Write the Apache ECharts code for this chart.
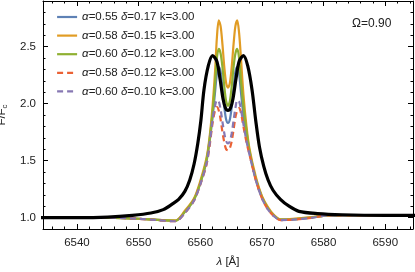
<!DOCTYPE html>
<html><head><meta charset="utf-8">
<script src="https://cdn.jsdelivr.net/npm/echarts@6/dist/echarts.min.js"></script>
<style>html,body{margin:0;padding:0;background:#fff}#c{width:415px;height:272px}</style>
</head><body><div id="c"></div>
<script>
// ---- data ----
const seriesNames = ['α=0.55 δ=0.17 k=3.00','α=0.58 δ=0.15 k=3.00','α=0.60 δ=0.12 k=3.00','α=0.58 δ=0.12 k=3.00','α=0.60 δ=0.10 k=3.00'];
const xColored = [6534,6540,6544,6550,6553,6556,6557.5,6559,6560,6561,6561.5,6562.0,6562.4,6562.7,6563.0,6563.3,6563.6,6563.9,6564.2,6564.5,6564.8,6565.1,6565.4,6565.7,6566.0,6566.3,6566.6,6567.0,6567.5,6568,6569,6570,6571,6572,6573,6575,6578,6581,6588,6595];
const blueY   = [1.0,1.0,1.0,0.99,0.98,0.972,1.05,1.16,1.30,1.49,1.66,1.88,2.10,2.26,2.32,2.28,2.14,1.97,1.86,1.83,1.86,1.97,2.14,2.28,2.32,2.26,2.10,1.90,1.72,1.57,1.34,1.18,1.08,1.015,0.982,0.985,1.0,1.02,1.02,1.02];
const orangeY = [1.0,1.0,1.0,0.99,0.98,0.975,1.06,1.17,1.32,1.52,1.70,1.98,2.28,2.58,2.73,2.68,2.52,2.32,2.18,2.14,2.18,2.32,2.52,2.68,2.73,2.62,2.40,2.08,1.80,1.60,1.36,1.19,1.09,1.02,0.985,0.99,1.005,1.02,1.02,1.02];
const greenY  = [1.0,1.0,1.0,0.99,0.98,0.972,1.05,1.16,1.30,1.50,1.68,1.92,2.18,2.40,2.48,2.44,2.32,2.15,2.02,1.98,2.02,2.15,2.32,2.44,2.48,2.40,2.20,1.98,1.76,1.58,1.34,1.18,1.08,1.015,0.982,0.985,1.0,1.02,1.02,1.02];
const redY    = [1.0,1.0,1.0,0.99,0.978,0.968,1.04,1.15,1.29,1.46,1.62,1.83,1.94,1.97,1.94,1.86,1.75,1.66,1.60,1.59,1.61,1.67,1.77,1.88,1.94,1.96,1.92,1.80,1.66,1.55,1.33,1.17,1.07,1.01,0.978,0.982,0.998,1.02,1.02,1.02];
const purpleY = [1.0,1.0,1.0,0.99,0.978,0.968,1.04,1.15,1.29,1.47,1.64,1.86,1.98,2.03,2.02,1.95,1.84,1.74,1.67,1.65,1.67,1.74,1.85,1.96,2.03,2.02,1.95,1.82,1.67,1.55,1.33,1.17,1.07,1.01,0.978,0.982,0.998,1.02,1.02,1.02];
const xBlack = [6534,6540,6545,6549,6552,6554,6555.5,6556.5,6557.5,6558.3,6559,6559.6,6560.1,6560.6,6561.3,6562,6562.7,6563.2,6563.7,6564.1,6564.5,6564.9,6565.3,6565.8,6566.3,6567,6567.7,6568.4,6569,6569.6,6570.3,6571,6571.8,6573,6574.4,6576,6579,6583,6590,6595];
const blackY = [1.0,1.0,1.005,1.02,1.04,1.07,1.12,1.16,1.23,1.33,1.47,1.65,1.85,2.12,2.33,2.42,2.37,2.22,2.04,1.96,1.94,1.96,2.04,2.22,2.37,2.42,2.33,2.12,1.85,1.62,1.45,1.33,1.24,1.16,1.10,1.055,1.035,1.025,1.02,1.02];
const xMajor = [6540,6550,6560,6570,6580,6590];
const xMinor = [6536,6538,6542,6544,6546,6548,6552,6554,6556,6558,6562,6564,6566,6568,6572,6574,6576,6578,6582,6584,6586,6588,6592,6594];
const yMajor = [1.0,1.5,2.0,2.5];
const yMinor = [1.1,1.2,1.3,1.4,1.6,1.7,1.8,1.9,2.1,2.2,2.3,2.4,2.6,2.7,2.8];
const omegaText = 'Ω=0.90';

// ---- chart ----
const colors = ['#5E81B5','#E19C24','#8FB032','#EB6235','#8778B3'];
const dashes = [false,false,false,true,true];
const ys = [blueY, orangeY, greenY, redY, purpleY];
const FONT = 'Liberation Sans';
const XMIN = 6534.5, XMAX = 6594.5, YMIN = 0.9, YMAX = 2.9;

function xAx(pos, vals, len, showLabel, showLine) {
  return {
    type:'value', position:pos, min:XMIN, max:XMAX,
    axisLine:{show:showLine, onZero:false, lineStyle:{color:'#000', width:1}},
    axisTick:{show:true, inside:true, length:len, customValues:vals, lineStyle:{color:'#000', width:1}},
    axisLabel:{show:showLabel, customValues:vals, color:'#222', fontFamily:FONT, fontSize:11.5, margin:8, formatter:v=>String(v)},
    splitLine:{show:false}
  };
}
function yAx(pos, vals, len, showLabel, showLine) {
  return {
    type:'value', position:pos, min:YMIN, max:YMAX,
    axisLine:{show:showLine, onZero:false, lineStyle:{color:'#000', width:1}},
    axisTick:{show:true, inside:true, length:len, customValues:vals, lineStyle:{color:'#000', width:1}},
    axisLabel:{show:showLabel, customValues:vals, color:'#222', fontFamily:FONT, fontSize:11.5, margin:7, formatter:v=>v.toFixed(1)},
    splitLine:{show:false}
  };
}

const xAxes = [
  Object.assign(xAx('bottom', xMajor, 5, true, true), {
    name:'{i|λ} [Å]', nameLocation:'middle', nameGap:27,
    nameTextStyle:{color:'#222', fontFamily:FONT, fontSize:11.5, rich:{i:{fontStyle:'italic', fontFamily:FONT, fontSize:11.5, color:'#222'}}}
  }),
  xAx('bottom', xMinor, 2.5, false, false),
  xAx('top', xMajor, 5, false, true),
  xAx('top', xMinor, 2.5, false, false)
];
const yAxes = [
  Object.assign(yAx('left', yMajor, 5, true, true), {
    name:'F/F{s|c}', nameLocation:'middle', nameGap:31, nameRotate:90,
    nameTextStyle:{color:'#222', fontFamily:FONT, fontSize:11.5, rich:{s:{fontFamily:FONT, fontSize:8, color:'#222', verticalAlign:'bottom', padding:[6,0,0,0]}}}
  }),
  yAx('left', yMinor, 2.5, false, false),
  yAx('right', yMajor, 5, false, true),
  yAx('right', yMinor, 2.5, false, false)
];

const series = seriesNames.map((n,i)=>({
  name:n, type:'line', xAxisIndex:0, yAxisIndex:0, smooth:0.3, symbol:'none',
  data: xColored.map((x,j)=>[x, ys[i][j]]),
  lineStyle:{color:colors[i], width:2.2, type: dashes[i] ? [6,4] : 'solid'},
  itemStyle:{color:colors[i]}, z:2+i
}));
series.push({
  name:'black', type:'line', xAxisIndex:0, yAxisIndex:0, smooth:0.3, symbol:'none',
  data: xBlack.map((x,j)=>[x, blackY[j]]),
  lineStyle:{color:'#000', width:3.2}, itemStyle:{color:'#000'}, z:10
});

const chart = echarts.init(document.getElementById('c'), null, {renderer:'canvas'});
chart.setOption({
  animation:false,
  backgroundColor:'#fff',
  grid:{left:43, right:2, top:1, bottom:43, containLabel:false, outerBoundsMode:'none'},
  xAxis:xAxes, yAxis:yAxes,
  legend:{
    data:seriesNames, orient:'vertical', left:51, top:6, itemWidth:20, itemHeight:12, itemGap:6.6,
    itemStyle:{opacity:0},
    lineStyle:{width:2.2},
    textStyle:{fontFamily:FONT, fontSize:11.5, color:'#222',
      rich:{i:{fontStyle:'italic', fontFamily:FONT, fontSize:11.5, color:'#222'}}},
    formatter:n=>n.replace(/α/,'{i|α}').replace(/δ/,'{i|δ}')
  },
  graphic:[{type:'text', left:352, top:18, style:{text:omegaText, font:'12px "Liberation Sans"', fill:'#222'}}],
  series:series
});
</script></body></html>
